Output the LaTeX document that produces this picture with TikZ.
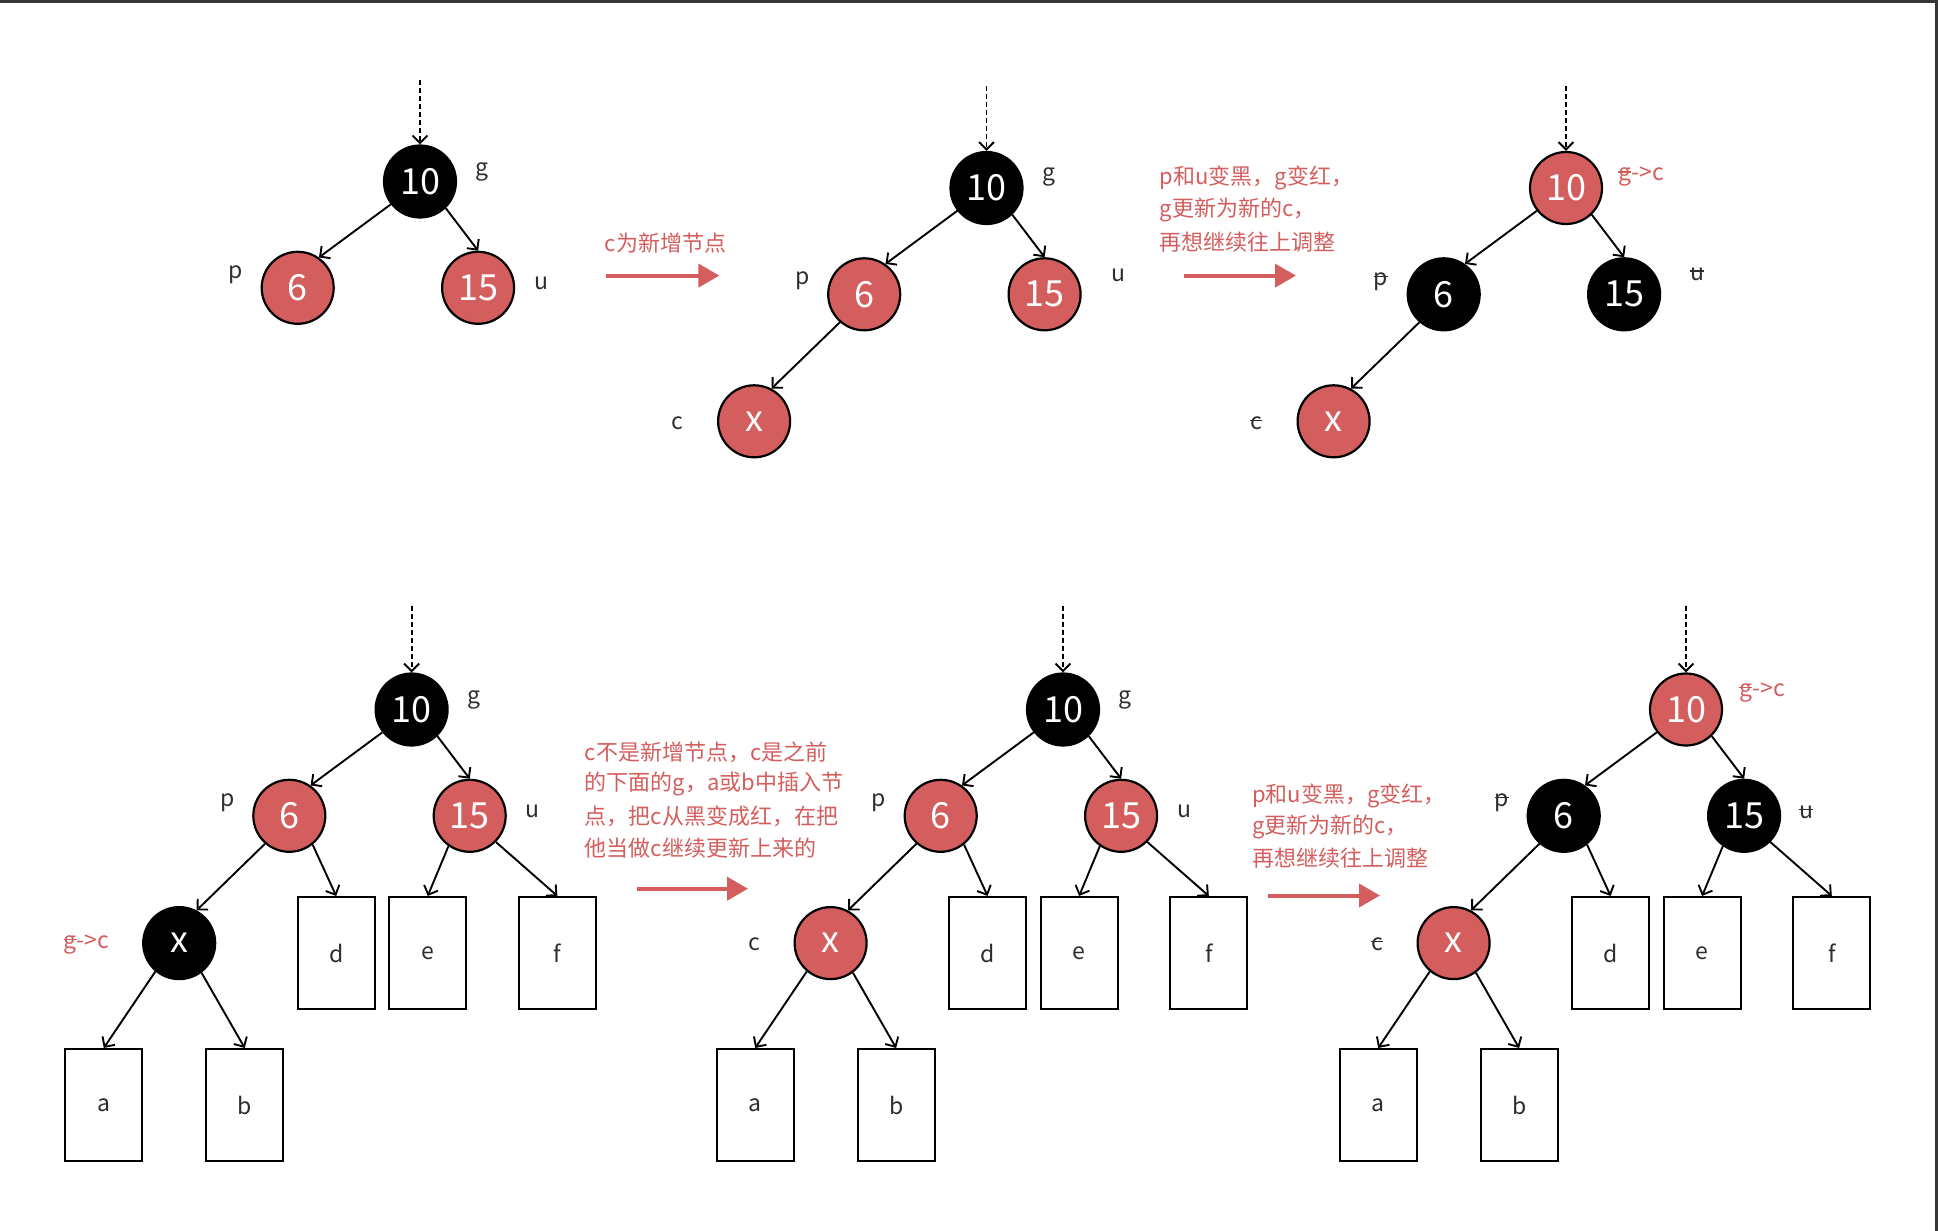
\documentclass[tikz,border=0pt]{standalone}
\usepackage{fontspec}
\setmainfont{Noto Sans CJK SC}
\usetikzlibrary{arrows.meta}
\definecolor{rbred}{RGB}{212,94,94}
\definecolor{lbl}{RGB}{45,45,45}
\definecolor{frame}{RGB}{55,55,55}
\newsavebox\strikebox
\newcommand\strikeit[1]{\sbox\strikebox{#1}\rlap{\rule[0.36em]{\wd\strikebox}{1.4pt}}#1}
\begin{document}
\begin{tikzpicture}[x=1pt,y=-1pt,
  rbnode/.style={circle,draw=black,line width=2.2pt,minimum size=72pt,inner sep=0pt,text=white,font=\fontsize{36}{40}\selectfont},
  blknode/.style={rbnode,fill=black},
  rednode/.style={rbnode,fill=rbred},
  leaf/.style={draw=black,line width=2.1pt,minimum width=77pt,minimum height=112pt,inner sep=0pt,text=lbl,font=\fontsize{23}{26}\selectfont},
  lab/.style={inner sep=0pt,text=lbl,font=\fontsize{23}{26}\selectfont},
  rlab/.style={lab,text=rbred},
  treeedge/.style={line width=1.9pt,-{Straight Barb[length=7.5pt,width=15pt,line width=1.9pt]}},
  dashline/.style={treeedge,dash pattern=on 5pt off 3pt},
  bigarrow/.style={draw=rbred,line width=4pt,-{Triangle[length=21pt,width=23pt,fill=rbred]}},
  note/.style={inner sep=0pt,anchor=west,text=rbred,font=\fontsize{22}{26}\selectfont},
]
\useasboundingbox (0,0) rectangle (1938,1231);
\fill[white] (0,0) rectangle (1938,1231);
\fill[frame] (0,0) rectangle (1938,3.5);
\fill[frame] (1935,0) rectangle (1938,1231);

% ---------- top-left tree ----------
\begin{scope}[shift={(420,181.5)}]
\node[blknode] (TLg) at (0,0) {10};
\node[rednode] (TLp) at (-122.3,106.3) {6};
\node[rednode] (TLu) at (58.1,106.3) {15};
\coordinate (TLt) at (0,-102);
\node[lab] (TLgl) at (62,-10) {g};
\node[lab] (TLpl) at (-184,93) {p};
\node[lab] (TLul) at (121,102) {u};
\end{scope}
\draw[dashline] (TLt) -- (TLg.north);
\draw[treeedge] (TLg.-142) -- (TLp.55);
\draw[treeedge] (TLg.-46) -- (TLu.90);

% arrow 1
\node[inner sep=0pt,text=rbred,font=\fontsize{22}{26}\selectfont] (N1) at (665.5,243.5) {c为新增节点};
\coordinate (A1s) at (605.6,275.6);
\coordinate (A1e) at (719.4,275.6);
\draw[bigarrow] (A1s) -- (A1e);

% ---------- top-middle tree ----------
\begin{scope}[shift={(986.5,188)}]
\node[blknode] (TMg) at (0,0) {10};
\node[rednode] (TMp) at (-122.3,106.3) {6};
\node[rednode] (TMu) at (58.1,106.3) {15};
\node[rednode] (TMx) at (-232.4,233.3) {x};
\coordinate (TMt) at (0,-102);
\node[lab] (TMgl) at (62,-11) {g};
\node[lab] (TMpl) at (-184,93) {p};
\node[lab] (TMul) at (132,87) {u};
\node[lab] (TMcl) at (-309,235) {c};
\end{scope}
\draw[dashline] (TMt) -- (TMg.north);
\draw[treeedge] (TMg.-142) -- (TMp.55);
\draw[treeedge] (TMg.-46) -- (TMu.90);
\draw[treeedge] (TMp.-131) -- (TMx.62);

% arrow 2
\node[note] (N2a) at (1159.4,178) {p和u变黑，g变红，};
\node[note] (N2b) at (1159.4,210) {g更新为新的c，};
\node[note] (N2c) at (1159.4,242) {再想继续往上调整};
\coordinate (A2s) at (1184,275.6);
\coordinate (A2e) at (1296,275.6);
\draw[bigarrow] (A2s) -- (A2e);

% ---------- top-right tree ----------
\begin{scope}[shift={(1566,188)}]
\node[rednode] (TRg) at (0,0) {10};
\node[blknode] (TRp) at (-122.3,106.3) {6};
\node[blknode] (TRu) at (58.1,106.3) {15};
\node[rednode] (TRx) at (-232.4,233.3) {x};
\coordinate (TRt) at (0,-102);
\node[rlab] (TRgl) at (75,-11) {\strikeit{g}->c};
\node[lab] (TRpl) at (-185,94) {\strikeit{p}};
\node[lab] (TRul) at (131,86) {\strikeit{u}};
\node[lab] (TRcl) at (-310,235) {\strikeit{c}};
\end{scope}
\draw[dashline] (TRt) -- (TRg.north);
\draw[treeedge] (TRg.-142) -- (TRp.55);
\draw[treeedge] (TRg.-46) -- (TRu.90);
\draw[treeedge] (TRp.-131) -- (TRx.62);

% ---------- bottom-left tree ----------
\begin{scope}[shift={(411.6,709.5)}]
\node[blknode] (BLg) at (0,0) {10};
\node[rednode] (BLp) at (-122.3,106.3) {6};
\node[rednode] (BLu) at (58.1,106.3) {15};
\node[blknode] (BLx) at (-232.4,233.6) {x};
\node[leaf] (BLd) at (-75.4,243.5) {d};
\node[leaf] (BLe) at (16.1,243.5) {e};
\node[leaf] (BLf) at (145.8,243.5) {f};
\node[leaf] (BLa) at (-307.8,395.5) {a};
\node[leaf] (BLb) at (-166.9,395.5) {b};
\coordinate (BLt) at (0,-104);
\node[lab] (BLgl) at (62,-10) {g};
\node[lab] (BLpl) at (-184,93) {p};
\node[lab] (BLul) at (121,102) {u};
\node[rlab] (BLcl) at (-325,235) {\strikeit{g}->c};
\end{scope}
\draw[dashline] (BLt) -- (BLg.north);
\draw[treeedge] (BLg.-142) -- (BLp.55);
\draw[treeedge] (BLg.-46) -- (BLu.90);
\draw[treeedge] (BLp.-131) -- (BLx.62);
\draw[treeedge] (BLp.-51) -- (BLd.north);
\draw[treeedge] (BLu.-125) -- (BLe.north);
\draw[treeedge] (BLu.-45) -- (BLf.north);
\draw[treeedge] (BLx.-130) -- (BLa.north);
\draw[treeedge] (BLx.-53) -- (BLb.north);

% arrow 3
\node[note] (N3a) at (584.6,752) {c不是新增节点，c是之前};
\node[note] (N3b) at (584.6,784) {的下面的g，a或b中插入节};
\node[note] (N3c) at (584.6,816) {点，把c从黑变成红，在把};
\node[note] (N3d) at (584.6,848) {他当做c继续更新上来的};
\coordinate (A3s) at (636.5,888.7);
\coordinate (A3e) at (748,888.7);
\draw[bigarrow] (A3s) -- (A3e);

% ---------- bottom-middle tree ----------
\begin{scope}[shift={(1063,709.5)}]
\node[blknode] (BMg) at (0,0) {10};
\node[rednode] (BMp) at (-122.3,106.3) {6};
\node[rednode] (BMu) at (58.1,106.3) {15};
\node[rednode] (BMx) at (-232.4,233.6) {x};
\node[leaf] (BMd) at (-75.4,243.5) {d};
\node[leaf] (BMe) at (16.1,243.5) {e};
\node[leaf] (BMf) at (145.8,243.5) {f};
\node[leaf] (BMa) at (-307.8,395.5) {a};
\node[leaf] (BMb) at (-166.9,395.5) {b};
\coordinate (BMt) at (0,-104);
\node[lab] (BMgl) at (62,-10) {g};
\node[lab] (BMpl) at (-184,93) {p};
\node[lab] (BMul) at (121,102) {u};
\node[lab] (BMcl) at (-309,235) {c};
\end{scope}
\draw[dashline] (BMt) -- (BMg.north);
\draw[treeedge] (BMg.-142) -- (BMp.55);
\draw[treeedge] (BMg.-46) -- (BMu.90);
\draw[treeedge] (BMp.-131) -- (BMx.62);
\draw[treeedge] (BMp.-51) -- (BMd.north);
\draw[treeedge] (BMu.-125) -- (BMe.north);
\draw[treeedge] (BMu.-45) -- (BMf.north);
\draw[treeedge] (BMx.-130) -- (BMa.north);
\draw[treeedge] (BMx.-53) -- (BMb.north);

% arrow 4
\node[note] (N4a) at (1252,796) {p和u变黑，g变红，};
\node[note] (N4b) at (1252,827) {g更新为新的c，};
\node[note] (N4c) at (1252,858) {再想继续往上调整};
\coordinate (A4s) at (1268,895.5);
\coordinate (A4e) at (1380,895.5);
\draw[bigarrow] (A4s) -- (A4e);

% ---------- bottom-right tree ----------
\begin{scope}[shift={(1686,709.5)}]
\node[rednode] (BRg) at (0,0) {10};
\node[blknode] (BRp) at (-122.3,106.3) {6};
\node[blknode] (BRu) at (58.1,106.3) {15};
\node[rednode] (BRx) at (-232.4,233.6) {x};
\node[leaf] (BRd) at (-75.4,243.5) {d};
\node[leaf] (BRe) at (16.1,243.5) {e};
\node[leaf] (BRf) at (145.8,243.5) {f};
\node[leaf] (BRa) at (-307.8,395.5) {a};
\node[leaf] (BRb) at (-166.9,395.5) {b};
\coordinate (BRt) at (0,-104);
\node[rlab] (BRgl) at (76,-17) {\strikeit{g}->c};
\node[lab] (BRpl) at (-184,93) {\strikeit{p}};
\node[lab] (BRul) at (120,103) {\strikeit{u}};
\node[lab] (BRcl) at (-309,235) {\strikeit{c}};
\end{scope}
\draw[dashline] (BRt) -- (BRg.north);
\draw[treeedge] (BRg.-142) -- (BRp.55);
\draw[treeedge] (BRg.-46) -- (BRu.90);
\draw[treeedge] (BRp.-131) -- (BRx.62);
\draw[treeedge] (BRp.-51) -- (BRd.north);
\draw[treeedge] (BRu.-125) -- (BRe.north);
\draw[treeedge] (BRu.-45) -- (BRf.north);
\draw[treeedge] (BRx.-130) -- (BRa.north);
\draw[treeedge] (BRx.-53) -- (BRb.north);
\end{tikzpicture}
\end{document}
